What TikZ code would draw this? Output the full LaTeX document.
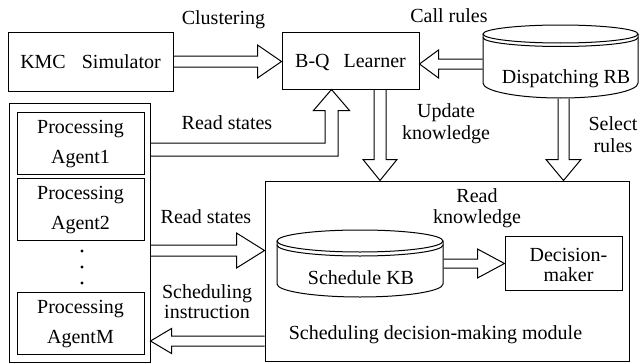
\documentclass[tikz,border=0pt]{standalone}
\usepackage{fontspec}
\setmainfont{Liberation Serif}
\usetikzlibrary{calc}
\newcommand{\twoln}[2]{\begin{tabular}[t]{@{}c@{}}#1\\#2\end{tabular}}
\newcommand{\harr}[5]{\draw[blk] let \p1=(#1), \p2=(#2), \n1={#5} in (\x1,\y2+#3) -- (\x2-\n1,\y2+#3) -- (\x2-\n1,\y2+#4) -- (\x2,\y2) -- (\x2-\n1,\y2-#4) -- (\x2-\n1,\y2-#3) -- (\x1,\y2-#3);}
\newcommand{\varr}[5]{\draw[blk] let \p1=(#1), \p2=(#2), \n1={#5} in (\x2-#3,\y1) -- (\x2-#3,\y2+\n1) -- (\x2-#4,\y2+\n1) -- (\x2,\y2) -- (\x2+#4,\y2+\n1) -- (\x2+#3,\y2+\n1) -- (\x2+#3,\y1);}
\begin{document}
\begin{tikzpicture}[x=1pt, y=-1pt, line width=1pt,
  box/.style={draw, inner sep=0pt, font=\fontsize{20}{24}\selectfont},
  agentbox/.style={box, minimum width=127pt, minimum height=62pt, font=\fontsize{20}{30}\selectfont, text height=14pt, text depth=34pt},
  blk/.style={draw, line join=miter},
  lbl/.style={inner sep=0pt, anchor=base, font=\fontsize{20}{22}\selectfont}]
\useasboundingbox (0,0) rectangle (640,364);
% boxes
\node[box, minimum width=165pt, minimum height=59pt, text height=14pt, text depth=0pt] (kmc) at (90.5,61.5) {KMC\hspace{0.8em}Simulator};
\node[box, minimum width=137pt, minimum height=57pt, text height=14pt, text depth=0pt] (bq) at (350.5,60.5) {B-Q\hspace{0.7em}Learner};
\node[box, minimum width=141pt, minimum height=259pt] (agents) at (79.5,232.5) {};
\node[agentbox] (ag1) at (80.5,143) {\twoln{Processing}{Agent1}};
\node[agentbox] (ag2) at (80.5,209) {\twoln{Processing}{Agent2}};
\node[agentbox] (agM) at (80.5,323) {\twoln{Processing}{AgentM}};
\fill (82,251) circle[radius=1.6pt];
\fill (82,267) circle[radius=1.6pt];
\fill (82,283) circle[radius=1.6pt];
\node[box, minimum width=364pt, minimum height=180pt] (module) at (447,271) {};
\node[box, minimum width=117pt, minimum height=54pt, font=\fontsize{20}{20}\selectfont, text height=14pt, text depth=18pt] (dm) at (563.5,263) {\hspace*{10pt}\twoln{Decision-}{maker}};
% cylinders
\node[minimum width=155pt, minimum height=73pt, inner sep=0pt] (drb) at (560.5,61.5) {};
\draw (483,34) -- (483,83) arc[start angle=180, end angle=360, x radius=77.5pt, y radius=15pt] -- (638,34);
\draw (560.5,34) ellipse[x radius=77.5pt, y radius=9pt];
\draw (483,37.5) arc[start angle=180, end angle=360, x radius=77.5pt, y radius=9pt];
\node[minimum width=166pt, minimum height=67pt, inner sep=0pt] (skb) at (360,263.5) {};
\draw (277,241) -- (277,284) arc[start angle=180, end angle=360, x radius=83pt, y radius=13pt] -- (443,241);
\draw (360,241) ellipse[x radius=83pt, y radius=11pt];
\draw (277,245) arc[start angle=180, end angle=360, x radius=83pt, y radius=11pt];
% labels
\node[lbl] (drbt) at (566,83) {Dispatching RB};
\node[lbl] (skbt) at (361,284) {Schedule KB};
\node[lbl] (modt) at (435.5,339) {Scheduling decision-making module};
\node[lbl] (clus) at (223.5,24) {Clustering};
\node[lbl] (callr) at (449,23) {Call rules};
\node[lbl] (rs1) at (227,129) {Read states};
\node[lbl] (upd) at (446,117) {\twoln{Update}{knowledge}};
\node[lbl] (sel) at (613,130) {\twoln{Select}{rules}};
\node[lbl] (rs2) at (206,223) {Read states};
\node[lbl, font=\fontsize{20}{20}\selectfont] (sch) at (207,298) {\twoln{Scheduling}{instruction}};
\node[lbl, font=\fontsize{20}{21}\selectfont] (rk) at (477,202) {\twoln{Read}{knowledge}};
% arrows
\harr{kmc.east}{bq.west |- kmc.east}{5.5pt}{16.5pt}{24pt}
\coordinate (c1) at ($(drb.west)+(0,2.5)$);
\harr{c1}{bq.east |- c1}{5pt}{14pt}{-19pt}
\coordinate (e0) at ($(bq.south)+(-19,0)$);
\draw[blk] let \p1=(agents.east), \p2=(e0), \p3=(ag1.east) in (\x1,\y3) -- (\x2-6.5pt,\y3) -- (\x2-6.5pt,\y2-21pt) -- (\x2-18pt,\y2-21pt) -- (\x2,\y2) -- (\x2+18pt,\y2-21pt) -- (\x2+6.5pt,\y2-21pt) -- (\x2+6.5pt,\y3-13pt) -- (\x1,\y3-13pt);
\coordinate (u1) at ($(bq.south)+(29.5,0)$);
\coordinate (u2) at (u1 |- module.north);
\varr{u1}{u2}{6pt}{17pt}{21pt}
\coordinate (s1) at ($(drb.south)+(3,0)$);
\coordinate (s2) at (s1 |- module.north);
\varr{s1}{s2}{5.5pt}{17.5pt}{21pt}
\coordinate (r1) at ($(agents.east)+(0,18)$);
\coordinate (r2) at (module.west |- r1);
\harr{r1}{r2}{5.5pt}{17.5pt}{28pt}
\coordinate (i1) at ($(agents.east)+(0,108.5)$);
\coordinate (i2) at (module.west |- i1);
\harr{i2}{i1}{5pt}{12.5pt}{-21pt}
\harr{skb.east}{dm.west |- skb.east}{4.5pt}{14.5pt}{27pt}
\end{tikzpicture}
\end{document}
